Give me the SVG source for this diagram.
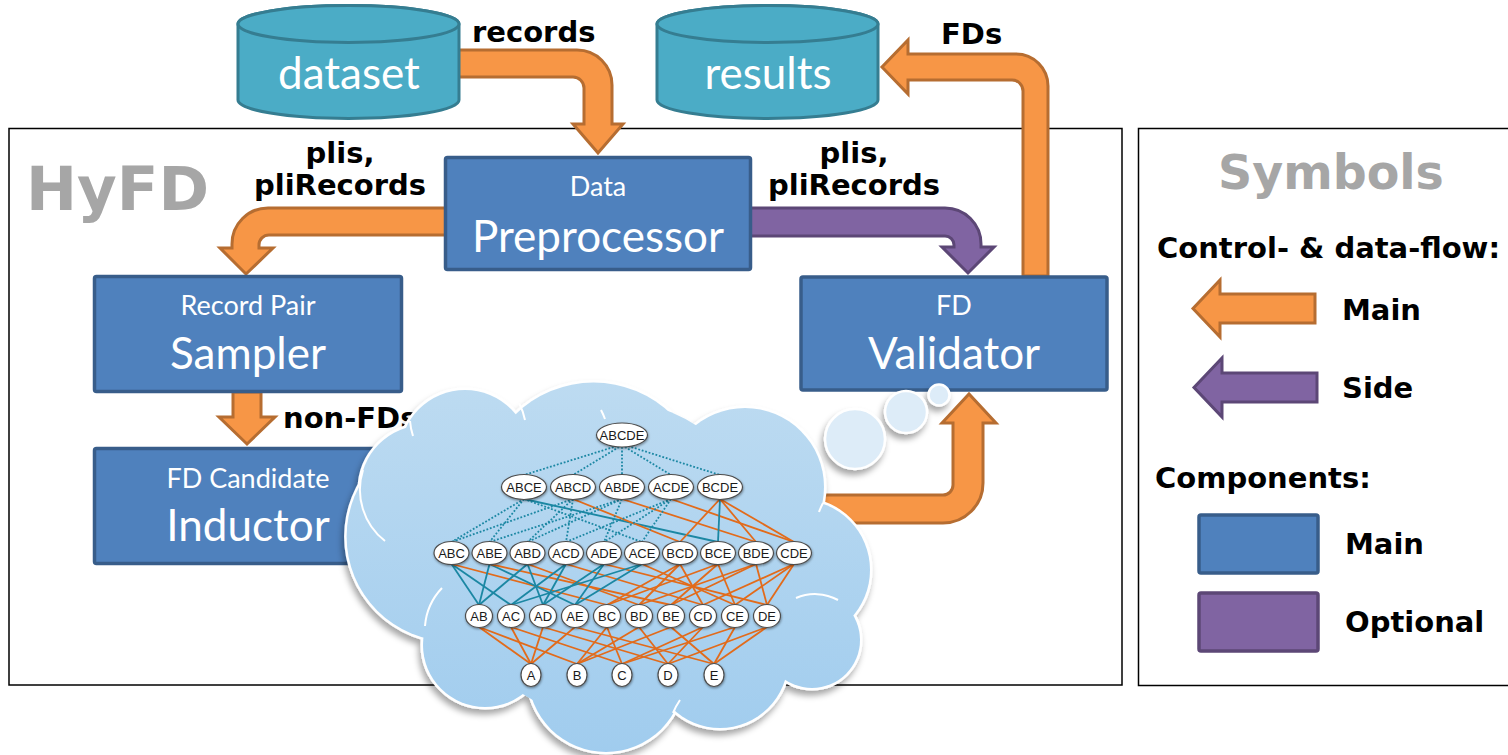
<svg xmlns="http://www.w3.org/2000/svg" width="1508" height="755" viewBox="0 0 1508 755">
  <defs>
    <style>
      .frame { fill: #ffffff; stroke: #000000; stroke-width: 1.5; }
      .main { fill: #f79646; stroke: #b66d31; stroke-width: 3; stroke-linejoin: miter; }
      .side { fill: #8064a2; stroke: #5c4776; stroke-width: 3; stroke-linejoin: miter; }
      .box { fill: #4f81bd; stroke: #385d8a; stroke-width: 3.5; }
      .opt { fill: #8064a2; stroke: #5c4776; stroke-width: 3.5; }
      .db { fill: #4bacc6; stroke: #357d91; stroke-width: 3; }
      .bt { font-family: Lato, "Open Sans", sans-serif; fill: #ffffff; text-anchor: middle; }
      .sm { font-size: 27px; }
      .lg { font-size: 44px; }
      .lbl { font-family: "DejaVu Sans", Verdana, sans-serif; font-weight: bold; font-size: 29px; fill: #000000; }
      .gray { font-family: "DejaVu Sans", Verdana, sans-serif; font-weight: bold; fill: #a6a6a6; }
      .te { stroke: #1b87a3; stroke-width: 1.8; }
      .td { stroke: #1b87a3; stroke-width: 1.8; stroke-dasharray: 1.8 1.8; }
      .or { stroke: #e26b1b; stroke-width: 1.8; }
      .nd { fill: #ffffff; stroke: #4d4d4d; stroke-width: 1.2; }
      .nt { font-family: "Liberation Sans", Arial, sans-serif; font-size: 13px; fill: #1a1a1a; text-anchor: middle; }
      .cl { fill: url(#cloudFill); }
      .clo { fill: none; stroke: #ffffff; stroke-width: 5; }
      .inner { fill: none; stroke: #ffffff; stroke-width: 2; }
      .bub { fill: #ddecf8; stroke: #ffffff; stroke-width: 2.5; }
    </style>
    <linearGradient id="cloudFill" gradientUnits="userSpaceOnUse" x1="0" y1="380" x2="0" y2="755">
      <stop offset="0" stop-color="#bddbf1"/>
      <stop offset="1" stop-color="#a0ccee"/>
    </linearGradient>
    <filter id="shadow" x="-20%" y="-20%" width="140%" height="150%">
      <feDropShadow dx="-2" dy="5" stdDeviation="3" flood-color="#000000" flood-opacity="0.35"/>
    </filter>
    <filter id="nshadow" x="-30%" y="-30%" width="160%" height="170%">
      <feDropShadow dx="0.5" dy="1.2" stdDeviation="0.8" flood-color="#000000" flood-opacity="0.4"/>
    </filter>
  </defs>

  <!-- frames -->
  <rect id="hyfd-frame" class="frame" x="9" y="128.5" width="1113" height="556.5"/>
  <rect id="symbols-frame" class="frame" x="1138.5" y="128.5" width="390" height="557"/>
  <text id="hyfd-title" class="gray" x="26" y="210" font-size="61">HyFD</text>

  <!-- data flow -->
  <g id="connectors">
    <path id="flow-records" class="main" d="M 450 50 H 577 A 35 35 0 0 1 612 85 V 124 H 623 L 598 153 L 573 124 H 584 V 88 A 11 11 0 0 0 573 77 H 450 Z"/>
    <path id="flow-fds" class="main" d="M 1023 276 V 91 A 11 11 0 0 0 1012 80 H 908 V 94 L 882 67 L 908 40 V 54 H 1016 A 32 32 0 0 1 1048 86 V 276 Z"/>
    <path id="flow-plis-left" class="main" d="M 446 208 H 268 A 36 36 0 0 0 232 244 V 248 H 220 L 246 274 L 273 248 H 259 V 245 A 10 10 0 0 1 269 235 H 446 Z"/>
    <path id="flow-plis-right" class="side" d="M 750 208 H 945 A 36 36 0 0 1 981 244 V 247 H 994 L 968 273 L 942 247 H 954 V 245 A 9 9 0 0 0 945 236 H 750 Z"/>
    <path id="flow-nonfds" class="main" d="M 233 392 V 417 H 219 L 247 444 L 275 417 H 261 V 392 Z"/>
    <path id="flow-candidates" class="main" d="M 790 495 H 943 A 10 10 0 0 0 953 485 V 423 H 942 L 969 394 L 996 423 H 983 V 483 A 40 40 0 0 1 943 523 H 790 Z"/>
  </g>

  <!-- flow labels -->
  <text class="lbl" x="472" y="42">records</text>
  <text class="lbl" x="941" y="44">FDs</text>
  <text class="lbl" x="340" y="163" text-anchor="middle">plis,</text>
  <text class="lbl" x="340" y="195" text-anchor="middle">pliRecords</text>
  <text class="lbl" x="854" y="163" text-anchor="middle">plis,</text>
  <text class="lbl" x="854" y="195" text-anchor="middle">pliRecords</text>
  <text class="lbl" x="283" y="428">non-FDs</text>

  <!-- storage -->
  <g id="dataset">
    <path class="db" d="M 238 24 V 100 A 110.5 18.5 0 0 0 459 100 V 24 A 110.5 18.5 0 0 0 238 24 Z"/>
    <ellipse class="db" cx="348.5" cy="24" rx="110.5" ry="18.5"/>
    <text class="bt lg" x="349" y="89">dataset</text>
  </g>
  <g id="results">
    <path class="db" d="M 657 24 V 100 A 110.5 18.5 0 0 0 878 100 V 24 A 110.5 18.5 0 0 0 657 24 Z"/>
    <ellipse class="db" cx="767.5" cy="24" rx="110.5" ry="18.5"/>
    <text class="bt lg" x="768" y="89">results</text>
  </g>

  <!-- components -->
  <g id="data-preprocessor">
    <rect class="box" x="445.5" y="157.5" width="305" height="112" rx="2"/>
    <text class="bt sm" x="598" y="196">Data</text>
    <text class="bt lg" x="598" y="252">Preprocessor</text>
  </g>
  <g id="record-pair-sampler">
    <rect class="box" x="94.5" y="276.5" width="307" height="115" rx="2"/>
    <text class="bt sm" x="248" y="315">Record Pair</text>
    <text class="bt lg" x="248" y="369">Sampler</text>
  </g>
  <g id="fd-validator">
    <rect class="box" x="801" y="277" width="306" height="113" rx="2"/>
    <text class="bt sm" x="954" y="315">FD</text>
    <text class="bt lg" x="954" y="369">Validator</text>
  </g>
  <g id="fd-candidate-inductor">
    <rect class="box" x="94.5" y="448.5" width="307" height="115" rx="2"/>
    <text class="bt sm" x="248" y="488">FD Candidate</text>
    <text class="bt lg" x="248" y="541">Inductor</text>
  </g>

  <!-- thought bubbles -->
  <g id="thought" filter="url(#shadow)">
    <circle class="bub" cx="855" cy="439" r="30"/>
    <circle class="bub" cx="906" cy="412" r="21"/>
    <circle class="bub" cx="939" cy="395" r="10.5"/>
  </g>

  <!-- candidate lattice cloud -->
  <g id="cloud">
    <g filter="url(#shadow)">
      <g class="clo">
        <circle cx="451.6" cy="536.5" r="105"/>
        <circle cx="425" cy="490" r="65"/>
        <circle cx="465" cy="455" r="65"/>
        <circle cx="593.5" cy="494" r="111.5"/>
        <circle cx="745" cy="487" r="79"/>
        <circle cx="800" cy="570" r="70"/>
        <circle cx="812" cy="640" r="48"/>
        <circle cx="720" cy="660" r="68"/>
        <circle cx="606" cy="674" r="78"/>
        <circle cx="485" cy="645" r="62"/>
      </g>
      <g class="cl">
        <circle cx="451.6" cy="536.5" r="105"/>
        <circle cx="425" cy="490" r="65"/>
        <circle cx="465" cy="455" r="65"/>
        <circle cx="593.5" cy="494" r="111.5"/>
        <circle cx="745" cy="487" r="79"/>
        <circle cx="800" cy="570" r="70"/>
        <circle cx="812" cy="640" r="48"/>
        <circle cx="720" cy="660" r="68"/>
        <circle cx="606" cy="674" r="78"/>
        <circle cx="485" cy="645" r="62"/>
        <circle cx="610" cy="560" r="160"/>
      </g>
    </g>
    <path class="inner" d="M 363 470 A 65 65 0 0 0 385 541"/>
    <path class="inner" d="M 410 421 A 65 65 0 0 0 413 436"/>
    <path class="inner" d="M 519 403 A 65 65 0 0 1 525 420"/>
    <path class="inner" d="M 601 410 A 80 80 0 0 1 605 419"/>
    <path class="inner" d="M 823 503 A 70 70 0 0 0 819 512"/>
    <path class="inner" d="M 796 598 A 48 48 0 0 1 838 600"/>
    <path class="inner" d="M 680 700 A 68 68 0 0 0 673 713"/>
    <path class="inner" d="M 442 588 A 62 62 0 0 0 425 626"/>
  </g>

  <!-- lattice edges -->
  <g id="lattice-edges">
    <!-- ABCDE to level 4 -->
    <line class="td" x1="617" y1="446" x2="524" y2="475"/>
    <line class="td" x1="619" y1="447" x2="573" y2="475"/>
    <line class="td" x1="622" y1="447" x2="622" y2="475"/>
    <line class="td" x1="625" y1="447" x2="671" y2="475"/>
    <line class="td" x1="628" y1="446" x2="720" y2="475"/>
    <!-- level 4 to level 3 -->
    <line class="td" x1="524" y1="499" x2="451.5" y2="542"/>
    <line class="td" x1="524" y1="499" x2="489.5" y2="542"/>
    <line class="td" x1="524" y1="499" x2="642" y2="542"/>
    <line class="te" x1="524" y1="499" x2="718" y2="542"/>
    <line class="td" x1="573" y1="499" x2="451.5" y2="542"/>
    <line class="td" x1="573" y1="499" x2="527.5" y2="542"/>
    <line class="td" x1="573" y1="499" x2="566" y2="542"/>
    <line class="or" x1="573" y1="499" x2="680" y2="542"/>
    <line class="td" x1="622" y1="499" x2="489.5" y2="542"/>
    <line class="td" x1="622" y1="499" x2="527.5" y2="542"/>
    <line class="td" x1="622" y1="499" x2="604" y2="542"/>
    <line class="or" x1="622" y1="499" x2="756" y2="542"/>
    <line class="td" x1="671" y1="499" x2="566" y2="542"/>
    <line class="td" x1="671" y1="499" x2="604" y2="542"/>
    <line class="td" x1="671" y1="499" x2="642" y2="542"/>
    <line class="or" x1="671" y1="499" x2="794" y2="542"/>
    <line class="or" x1="720" y1="499" x2="680" y2="542"/>
    <line class="te" x1="720" y1="499" x2="718" y2="542"/>
    <line class="or" x1="720" y1="499" x2="756" y2="542"/>
    <line class="or" x1="720" y1="499" x2="794" y2="542"/>
    <!-- level 3 to level 2 -->
    <line class="te" x1="451.5" y1="564" x2="479" y2="605"/>
    <line class="te" x1="451.5" y1="564" x2="511" y2="605"/>
    <line class="or" x1="451.5" y1="564" x2="607" y2="605"/>
    <line class="te" x1="489.5" y1="564" x2="479" y2="605"/>
    <line class="te" x1="489.5" y1="564" x2="575" y2="605"/>
    <line class="or" x1="489.5" y1="564" x2="671" y2="605"/>
    <line class="te" x1="527.5" y1="564" x2="479" y2="605"/>
    <line class="te" x1="527.5" y1="564" x2="543" y2="605"/>
    <line class="or" x1="527.5" y1="564" x2="639" y2="605"/>
    <line class="te" x1="566" y1="564" x2="511" y2="605"/>
    <line class="te" x1="566" y1="564" x2="543" y2="605"/>
    <line class="or" x1="566" y1="564" x2="703" y2="605"/>
    <line class="te" x1="604" y1="564" x2="543" y2="605"/>
    <line class="te" x1="604" y1="564" x2="575" y2="605"/>
    <line class="or" x1="604" y1="564" x2="767" y2="605"/>
    <line class="te" x1="642" y1="564" x2="511" y2="605"/>
    <line class="te" x1="642" y1="564" x2="575" y2="605"/>
    <line class="or" x1="642" y1="564" x2="735" y2="605"/>
    <line class="or" x1="680" y1="564" x2="607" y2="605"/>
    <line class="or" x1="680" y1="564" x2="639" y2="605"/>
    <line class="or" x1="680" y1="564" x2="703" y2="605"/>
    <line class="or" x1="718" y1="564" x2="607" y2="605"/>
    <line class="or" x1="718" y1="564" x2="671" y2="605"/>
    <line class="or" x1="718" y1="564" x2="735" y2="605"/>
    <line class="or" x1="756" y1="564" x2="639" y2="605"/>
    <line class="or" x1="756" y1="564" x2="671" y2="605"/>
    <line class="or" x1="756" y1="564" x2="767" y2="605"/>
    <line class="or" x1="794" y1="564" x2="703" y2="605"/>
    <line class="or" x1="794" y1="564" x2="735" y2="605"/>
    <line class="or" x1="794" y1="564" x2="767" y2="605"/>
    <!-- level 2 to level 1 -->
    <line class="or" x1="479" y1="627" x2="531" y2="664"/>
    <line class="or" x1="479" y1="627" x2="577" y2="664"/>
    <line class="or" x1="511" y1="627" x2="531" y2="664"/>
    <line class="or" x1="511" y1="627" x2="622" y2="664"/>
    <line class="or" x1="543" y1="627" x2="531" y2="664"/>
    <line class="or" x1="543" y1="627" x2="668" y2="664"/>
    <line class="or" x1="575" y1="627" x2="531" y2="664"/>
    <line class="or" x1="575" y1="627" x2="714" y2="664"/>
    <line class="or" x1="607" y1="627" x2="577" y2="664"/>
    <line class="or" x1="607" y1="627" x2="622" y2="664"/>
    <line class="or" x1="639" y1="627" x2="577" y2="664"/>
    <line class="or" x1="639" y1="627" x2="668" y2="664"/>
    <line class="or" x1="671" y1="627" x2="577" y2="664"/>
    <line class="or" x1="671" y1="627" x2="714" y2="664"/>
    <line class="or" x1="703" y1="627" x2="622" y2="664"/>
    <line class="or" x1="703" y1="627" x2="668" y2="664"/>
    <line class="or" x1="735" y1="627" x2="622" y2="664"/>
    <line class="or" x1="735" y1="627" x2="714" y2="664"/>
    <line class="or" x1="767" y1="627" x2="668" y2="664"/>
    <line class="or" x1="767" y1="627" x2="714" y2="664"/>
  </g>

  <!-- lattice nodes -->
  <g id="lattice-nodes">
    <g filter="url(#nshadow)">
      <ellipse class="nd" cx="622" cy="435" rx="25.5" ry="12"/>
      <ellipse class="nd" cx="524" cy="487" rx="22.5" ry="12.5"/>
      <ellipse class="nd" cx="573" cy="487" rx="22.5" ry="12.5"/>
      <ellipse class="nd" cx="622" cy="487" rx="22.5" ry="12.5"/>
      <ellipse class="nd" cx="671" cy="487" rx="22.5" ry="12.5"/>
      <ellipse class="nd" cx="720" cy="487" rx="22.5" ry="12.5"/>
      <ellipse class="nd" cx="451.5" cy="553" rx="17.5" ry="11.5"/>
      <ellipse class="nd" cx="489.5" cy="553" rx="17.5" ry="11.5"/>
      <ellipse class="nd" cx="527.5" cy="553" rx="17.5" ry="11.5"/>
      <ellipse class="nd" cx="566" cy="553" rx="17.5" ry="11.5"/>
      <ellipse class="nd" cx="604" cy="553" rx="17.5" ry="11.5"/>
      <ellipse class="nd" cx="642" cy="553" rx="17.5" ry="11.5"/>
      <ellipse class="nd" cx="680" cy="553" rx="17.5" ry="11.5"/>
      <ellipse class="nd" cx="718" cy="553" rx="17.5" ry="11.5"/>
      <ellipse class="nd" cx="756" cy="553" rx="17.5" ry="11.5"/>
      <ellipse class="nd" cx="794" cy="553" rx="17.5" ry="11.5"/>
      <ellipse class="nd" cx="479" cy="616" rx="13.5" ry="11.5"/>
      <ellipse class="nd" cx="511" cy="616" rx="13.5" ry="11.5"/>
      <ellipse class="nd" cx="543" cy="616" rx="13.5" ry="11.5"/>
      <ellipse class="nd" cx="575" cy="616" rx="13.5" ry="11.5"/>
      <ellipse class="nd" cx="607" cy="616" rx="13.5" ry="11.5"/>
      <ellipse class="nd" cx="639" cy="616" rx="13.5" ry="11.5"/>
      <ellipse class="nd" cx="671" cy="616" rx="13.5" ry="11.5"/>
      <ellipse class="nd" cx="703" cy="616" rx="13.5" ry="11.5"/>
      <ellipse class="nd" cx="735" cy="616" rx="13.5" ry="11.5"/>
      <ellipse class="nd" cx="767" cy="616" rx="13.5" ry="11.5"/>
      <ellipse class="nd" cx="531" cy="675" rx="10" ry="11.5"/>
      <ellipse class="nd" cx="577" cy="675" rx="10" ry="11.5"/>
      <ellipse class="nd" cx="622" cy="675" rx="10" ry="11.5"/>
      <ellipse class="nd" cx="668" cy="675" rx="10" ry="11.5"/>
      <ellipse class="nd" cx="714" cy="675" rx="10" ry="11.5"/>
    </g>
    <text class="nt" x="622" y="439.5">ABCDE</text>
    <text class="nt" x="524" y="491.5">ABCE</text>
    <text class="nt" x="573" y="491.5">ABCD</text>
    <text class="nt" x="622" y="491.5">ABDE</text>
    <text class="nt" x="671" y="491.5">ACDE</text>
    <text class="nt" x="720" y="491.5">BCDE</text>
    <text class="nt" x="451.5" y="557.5">ABC</text>
    <text class="nt" x="489.5" y="557.5">ABE</text>
    <text class="nt" x="527.5" y="557.5">ABD</text>
    <text class="nt" x="566" y="557.5">ACD</text>
    <text class="nt" x="604" y="557.5">ADE</text>
    <text class="nt" x="642" y="557.5">ACE</text>
    <text class="nt" x="680" y="557.5">BCD</text>
    <text class="nt" x="718" y="557.5">BCE</text>
    <text class="nt" x="756" y="557.5">BDE</text>
    <text class="nt" x="794" y="557.5">CDE</text>
    <text class="nt" x="479" y="620.5">AB</text>
    <text class="nt" x="511" y="620.5">AC</text>
    <text class="nt" x="543" y="620.5">AD</text>
    <text class="nt" x="575" y="620.5">AE</text>
    <text class="nt" x="607" y="620.5">BC</text>
    <text class="nt" x="639" y="620.5">BD</text>
    <text class="nt" x="671" y="620.5">BE</text>
    <text class="nt" x="703" y="620.5">CD</text>
    <text class="nt" x="735" y="620.5">CE</text>
    <text class="nt" x="767" y="620.5">DE</text>
    <text class="nt" x="531" y="679.5">A</text>
    <text class="nt" x="577" y="679.5">B</text>
    <text class="nt" x="622" y="679.5">C</text>
    <text class="nt" x="668" y="679.5">D</text>
    <text class="nt" x="714" y="679.5">E</text>
  </g>

  <!-- legend -->
  <g id="legend">
    <text class="gray" x="1218" y="189" font-size="47.5">Symbols</text>
    <text class="lbl" x="1157" y="258">Control- &amp; data-flow:</text>
    <path class="main" d="M 1315 294 V 323 H 1220 V 337 L 1193 308.5 L 1220 280 V 294 Z"/>
    <text class="lbl" x="1342" y="320">Main</text>
    <path class="side" d="M 1317 373 V 402 H 1222 V 417 L 1194 387.5 L 1222 358 V 373 Z"/>
    <text class="lbl" x="1342" y="398">Side</text>
    <text class="lbl" x="1155" y="488">Components:</text>
    <rect class="box" x="1199" y="515" width="119" height="58" rx="2"/>
    <text class="lbl" x="1345" y="554">Main</text>
    <rect class="opt" x="1199" y="593" width="119" height="58" rx="2"/>
    <text class="lbl" x="1345" y="632">Optional</text>
  </g>
</svg>
